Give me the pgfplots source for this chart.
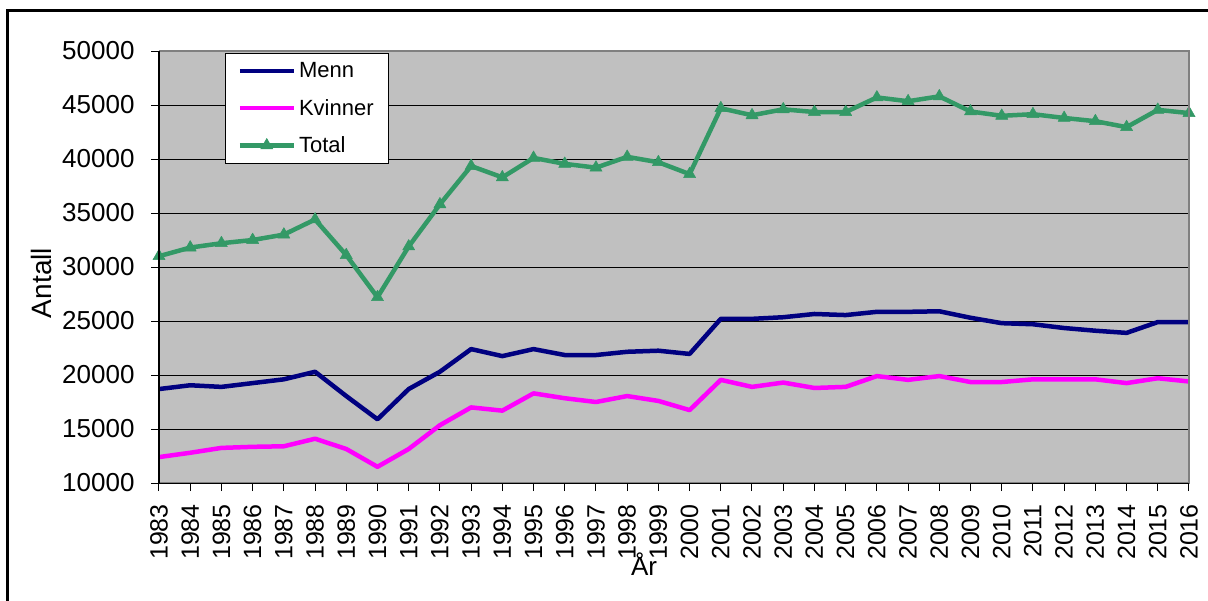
\documentclass[border=0pt]{standalone}
\usepackage{pgfplots}
\pgfplotsset{compat=1.18}
\usepackage{pgfplotstable}
\usepackage{fontspec}
\setmainfont{Liberation Sans}
\definecolor{menn}{RGB}{0,0,128}
\definecolor{kvinner}{RGB}{255,0,255}
\definecolor{total}{RGB}{51,153,102}
\definecolor{plotbg}{RGB}{192,192,192}
\definecolor{frameg}{RGB}{128,128,128}
\pgfplotstableread{
year menn kvinner total
1983 18700 12400 31000
1984 19050 12800 31800
1985 18900 13250 32200
1986 19250 13350 32500
1987 19600 13400 33000
1988 20300 14100 34400
1989 18050 13150 31100
1990 15900 11500 27200
1991 18700 13150 31900
1992 20300 15350 35800
1993 22400 17000 39350
1994 21750 16700 38300
1995 22400 18300 40100
1996 21850 17850 39550
1997 21850 17500 39200
1998 22150 18050 40200
1999 22250 17600 39700
2000 21950 16750 38600
2001 25200 19550 44700
2002 25200 18900 44050
2003 25350 19300 44600
2004 25650 18800 44350
2005 25550 18900 44350
2006 25850 19900 45700
2007 25850 19550 45350
2008 25900 19900 45800
2009 25300 19350 44400
2010 24800 19350 44000
2011 24700 19600 44150
2012 24350 19600 43800
2013 24100 19600 43500
2014 23900 19250 42950
2015 24900 19700 44550
2016 24900 19400 44250
}\datatable
\begin{document}
\begin{tikzpicture}[x=1pt,y=1pt]
\useasboundingbox (0,0) rectangle (1208,-600);
\fill[white] (0,0) rectangle (1208,-600);
\draw[line width=3pt] (7.5,-602) -- (7.5,-10.5) -- (1210,-10.5);
\begin{axis}[
  at={(159pt,-483pt)}, anchor=south west,
  scale only axis, width=1030pt, height=432pt,
  xmin=1983, xmax=2016, ymin=10000, ymax=50000,
  clip=false,
  scaled ticks=false,
  axis background/.style={fill=plotbg},
  axis line style={draw=none},
  xtick={1983,...,2016}, ytick={10000,15000,...,50000},
  tick align=outside, xtick pos=bottom, ytick pos=left,
  major tick length=8pt,
  tick style={black, line width=1pt},
  ymajorgrids, grid style={black, line width=1pt},
  /pgf/number format/1000 sep={},
  /pgf/number format/assume math mode=true,
  ticklabel style={font=\fontsize{26}{30}\selectfont},
  xticklabel style={font=\fontsize{25}{30}\selectfont, rotate=90, anchor=east, inner xsep=13pt},
  yticklabel style={xshift=-13pt},
  xlabel={År}, ylabel={Antall},
  xlabel style={font=\fontsize{26}{30}\selectfont, at={(axis description cs:0.4709,-0.213)}, anchor=base},
  ylabel style={font=\fontsize{28}{32}\selectfont, at={(axis description cs:-0.1136,0.463)}, anchor=center},
  legend style={
    at={(axis description cs:0.0641,0.995)}, anchor=north west,
    draw=black, line width=1pt, fill=white,
    font=\fontsize{22}{26}\selectfont,
    inner xsep=12pt, inner ysep=6pt, row sep=14pt,
    cells={anchor=west},
    nodes={inner sep=3pt},
  },
  legend image code/.code={\draw[#1, mark repeat=2, mark phase=2] plot coordinates {(0pt,0pt) (27pt,0pt) (54pt,0pt)};},
  after end axis/.code={
    \draw[frameg, line width=2.5pt] (rel axis cs:0,0) -- (rel axis cs:1,0) -- (rel axis cs:1,1) -- (rel axis cs:0,1);
    \draw[black, line width=1.5pt] (rel axis cs:0,1) -- (rel axis cs:0,0);
    \draw[black, line width=1pt] (rel axis cs:0,0) -- (rel axis cs:1,0);
  },
]
\addplot[menn, line width=4.5pt, line join=round, no markers] table[x=year, y=menn] {\datatable};
\addlegendentry{Menn}
\addplot[kvinner, line width=4.5pt, line join=round, no markers] table[x=year, y=kvinner] {\datatable};
\addlegendentry{Kvinner}
\addplot[total, line width=4.5pt, line join=round, mark=triangle*, mark size=7pt, mark options={solid, fill=total, line width=0.5pt}] table[x=year, y=total] {\datatable};
\addlegendentry{Total}
\end{axis}
\end{tikzpicture}
\end{document}
